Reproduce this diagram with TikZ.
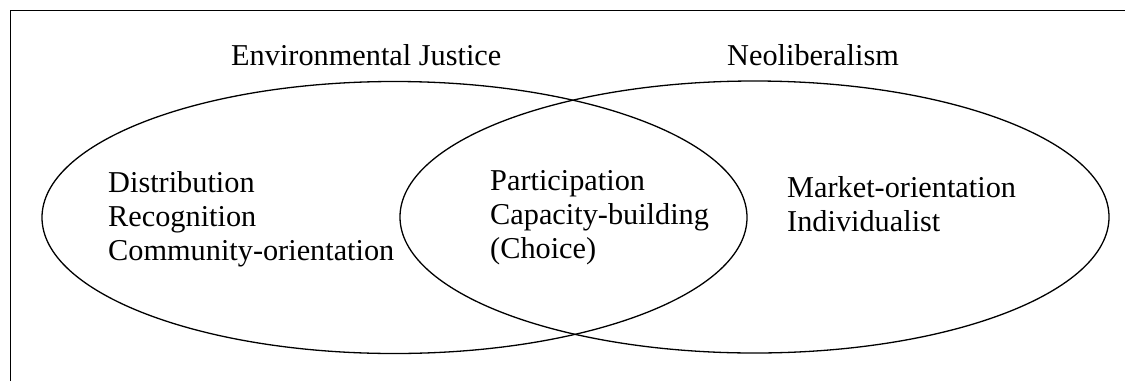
\documentclass[tikz,border=0pt]{standalone}
\usepackage{fontspec}
\setmainfont{Liberation Serif}
\usetikzlibrary{shapes.geometric}
\begin{document}
\begin{tikzpicture}[x=1pt,y=-1pt,
  set/.style={draw=black, line width=1.3pt, ellipse, inner sep=0pt,
    minimum width=#1, minimum height=272pt},
  lbl/.style={anchor=base west, inner sep=0pt, text=black,
    font=\fontsize{30.3pt}{34pt}\selectfont}]
  \useasboundingbox (0,0) rectangle (1125,381);
  % frame
  \draw[line width=0.9pt] (10,381) -- (10,10) -- (1125,10);
  % the two sets
  \node[set=705pt] (ej) at (394.5,217.5) {};
  \node[set=709pt] (neo) at (754.5,217) {};
  % set titles
  \node[lbl] (ejt) at (231,65) {Environmental Justice};
  \node[lbl] (neot) at (727,65) {Neoliberalism};
  % environmental justice only
  \node[lbl] (d1) at (108,192) {Distribution};
  \node[lbl] (d2) at (108,226) {Recognition};
  \node[lbl] (d3) at (108,260) {Community-orientation};
  % overlap
  \node[lbl] (p1) at (490,190) {Participation};
  \node[lbl] (p2) at (490,224) {Capacity-building};
  \node[lbl] (p3) at (490,258) {(Choice)};
  % neoliberalism only
  \node[lbl] (m1) at (787,197) {Market-orientation};
  \node[lbl] (m2) at (787,231) {Individualist};
\end{tikzpicture}
\end{document}
